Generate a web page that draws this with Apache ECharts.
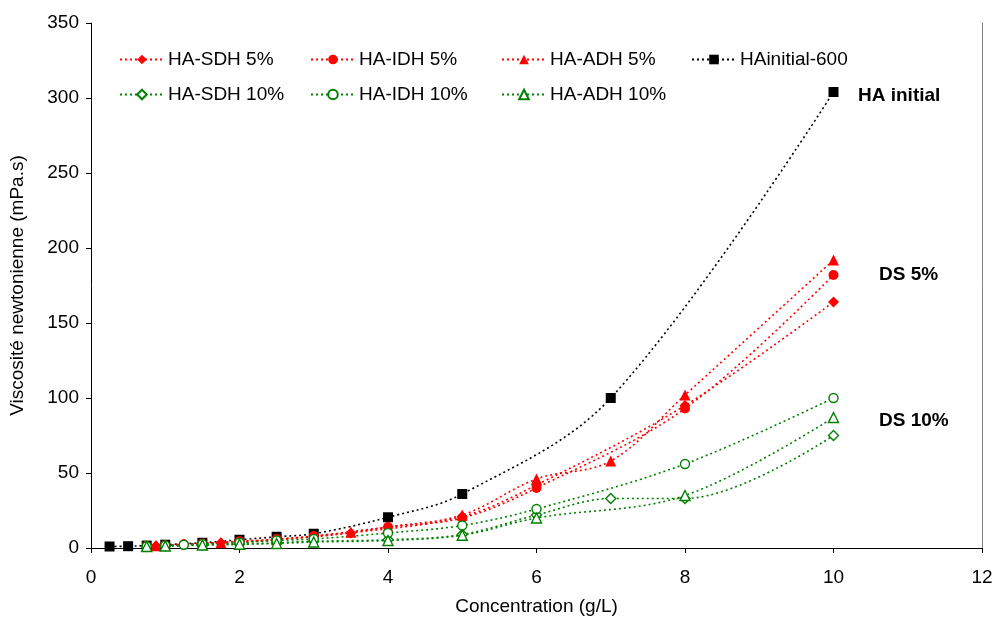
<!DOCTYPE html>
<html>
<head>
<meta charset="utf-8">
<script src="https://cdn.jsdelivr.net/npm/echarts@6/dist/echarts.min.js"></script>
<style>html,body{margin:0;padding:0;background:#fff}#c{width:995px;height:619px}</style>
</head>
<body>
<div id="c"></div>
<script>
// Data
const xInitial = [0.25,0.5,0.75,1,1.5,2,2.5,3,4,5,7,10];
const yInitial = [1,1.2,1.6,2.2,3.5,5.5,7.5,9.5,20.5,36,100,304];
const xSDH5 = [0.875,1.25,1.75,2.5,3.5,5,6,8,10];
const ySDH5 = [1.5,2.5,3.5,5.5,10,21,42,95,164];
const xIDH5 = [0.75,1,1.25,1.5,2,2.5,3,4,5,6,8,10];
const yIDH5 = [1.3,1.8,2.5,3,4.5,6,8,14,20,40,93,182];
const xADH5 = [0.875,1.75,2.5,3.5,4,5,6,7,8,10];
const yADH5 = [1.5,3.5,5.5,10.5,14,22,46,58,102,192];
const xSDH10 = [0.75,1,1.5,2,2.5,3,4,5,6,7,8,10];
const ySDH10 = [1,1.3,2,2.5,3.5,4.5,5.5,9,22,33,33,75];
const xIDH10 = [0.75,1,1.25,1.5,2,2.5,3,4,5,6,8,10];
const yIDH10 = [1.2,1.6,2.2,2.6,3.5,5,6,10,15,26,56,100];
const xADH10 = [0.75,1,1.5,2,2.5,3,4,5,6,8,10];
const yADH10 = [1,1.3,2,2.5,3,4,5,8.5,20,35,87];
const xTicks = [0,2,4,6,8,10,12];
const yTicks = [0,50,100,150,200,250,300,350];
const annotations = ["HA initial","DS 5%","DS 10%"];

const FONT = 'Liberation Sans, Arial, sans-serif';
const zip = (xs, ys) => xs.map((x,i)=>[x, ys[i]]);

function mk(name, xs, ys, color, symbol, size, hollow) {
  return {
    name, type:'line', data: zip(xs, ys), smooth: 0.35,
    symbol, symbolSize: size, showAllSymbol: true,
    lineStyle:{color, width:1.6, type:[2,3]},
    itemStyle: hollow ? {color:'#fff', borderColor:color, borderWidth:1.4} : {color, borderColor:color, borderWidth:0},
    emphasis:{disabled:true}, animation:false
  };
}

const series = [
  mk('HAinitial-600', xInitial, yInitial, '#000000', 'rect', 10, false),
  mk('HA-SDH 5%', xSDH5, ySDH5, '#ff0000', 'diamond', 11, false),
  mk('HA-IDH 5%', xIDH5, yIDH5, '#ff0000', 'circle', 10, false),
  mk('HA-ADH 5%', xADH5, yADH5, '#ff0000', 'triangle', 11, false),
  mk('HA-SDH 10%', xSDH10, ySDH10, '#008000', 'diamond', 10, true),
  mk('HA-IDH 10%', xIDH10, yIDH10, '#008000', 'circle', 9, true),
  mk('HA-ADH 10%', xADH10, yADH10, '#008000', 'triangle', 10, true)
];

const legendPos = [
  ['HA-SDH 5%',114,45],['HA-IDH 5%',305,45],['HA-ADH 5%',496,45],['HAinitial-600',686,45],
  ['HA-SDH 10%',114,80],['HA-IDH 10%',305,80],['HA-ADH 10%',496,80]
];
const legends = legendPos.map(([n,l,t]) => ({
  data:[n], left:l, top:t, itemWidth:44, itemHeight:12, itemGap:0,
  textStyle:{fontFamily:FONT, fontSize:19, color:'#000', padding:[0,0,0,-1]}, selectedMode:false
}));

const chart = echarts.init(document.getElementById('c'), null, {renderer:'canvas'});
chart.setOption({
  backgroundColor:'#fff',
  animation:false,
  grid:{left:91, right:13, top:23, bottom:71, containLabel:false, outerBoundsMode:'none'},
  legend: legends,
  xAxis:{
    type:'value', min:0, max:12, interval:2,
    name:'Concentration (g/L)', nameLocation:'middle', nameGap:49,
    nameTextStyle:{fontFamily:FONT, fontSize:19, color:'#000'},
    axisLine:{lineStyle:{color:'#000', width:1}},
    axisTick:{show:true, length:5, lineStyle:{color:'#000'}},
    axisLabel:{fontFamily:FONT, fontSize:19, color:'#000', margin:20,
      formatter: v => xTicks.includes(v) ? String(v) : ''},
    splitLine:{show:false}
  },
  yAxis:[{
    type:'value', min:0, max:350, interval:50,
    name:'Viscosité newtonienne (mPa.s)', nameLocation:'middle', nameGap:64,
    nameTextStyle:{fontFamily:FONT, fontSize:19, color:'#000'},
    axisLine:{show:true, lineStyle:{color:'#000', width:1}},
    axisTick:{show:true, length:5, lineStyle:{color:'#000'}},
    axisLabel:{fontFamily:FONT, fontSize:19, color:'#000', margin:12,
      formatter: v => yTicks.includes(v) ? String(v) : ''},
    splitLine:{show:false}
  },{
    type:'value', min:0, max:350, interval:50, position:'right',
    axisLine:{show:true, lineStyle:{color:'#808080', width:1}},
    axisTick:{show:false}, axisLabel:{show:false}, splitLine:{show:false}
  }],
  graphic:[
    {type:'text', left:858, top:86, style:{text:annotations[0], font:'bold 19px '+FONT, fill:'#000'}},
    {type:'text', left:879, top:265, style:{text:annotations[1], font:'bold 19px '+FONT, fill:'#000'}},
    {type:'text', left:879, top:411, style:{text:annotations[2], font:'bold 19px '+FONT, fill:'#000'}}
  ],
  series
});
</script>
</body>
</html>
